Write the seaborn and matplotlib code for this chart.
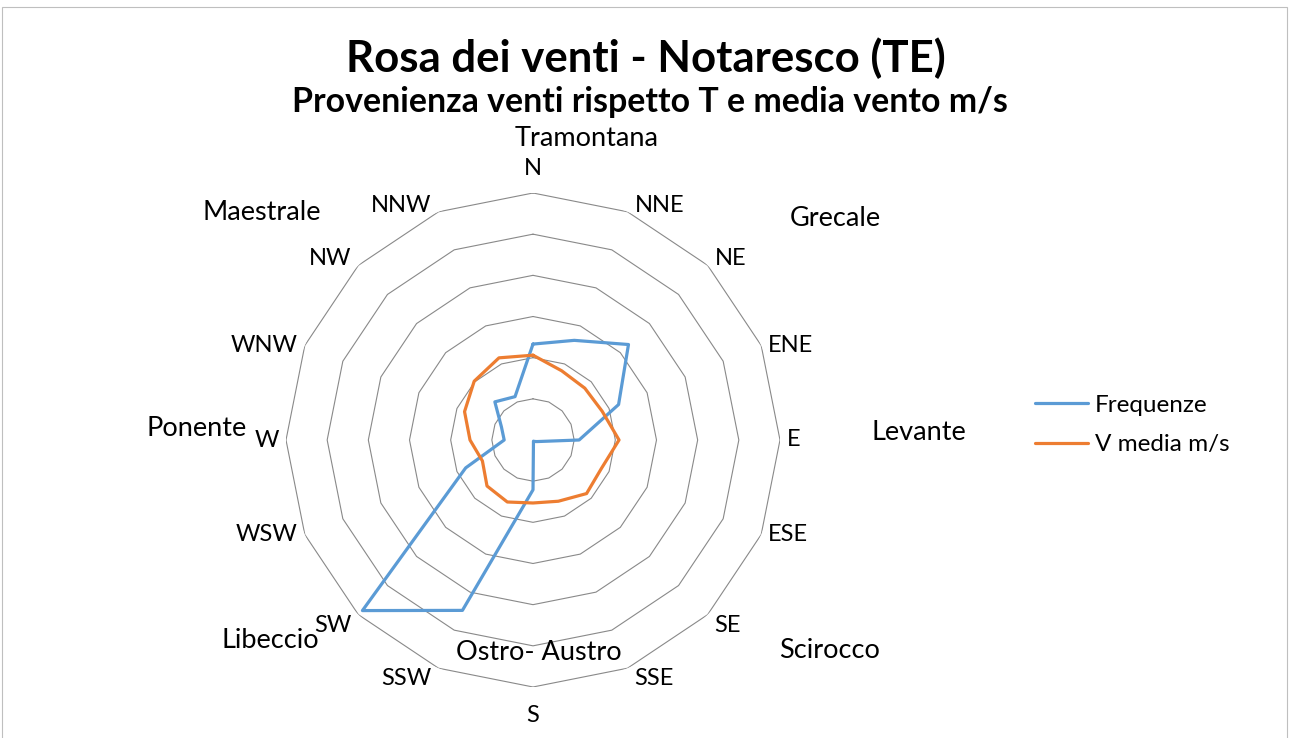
import numpy as np
import pandas as pd
import matplotlib.pyplot as plt
import seaborn as sns
from matplotlib.patches import Rectangle
from matplotlib.lines import Line2D

# data (one ring = 1 unit)
directions = ['N', 'NNE', 'NE', 'ENE', 'E', 'ESE', 'SE', 'SSE',
              'S', 'SSW', 'SW', 'WSW', 'W', 'WNW', 'NW', 'NNW']
frequenze = [2.33, 2.62, 3.28, 2.25, 1.12, 0.10, 0.05, 0.03,
             1.21, 4.48, 5.86, 1.77, 0.70, 0.83, 1.31, 1.14]
v_media = [2.06, 1.82, 1.78, 1.82, 2.09, 1.80, 1.84, 1.61,
           1.53, 1.63, 1.58, 1.33, 1.53, 1.80, 2.02, 2.16]
series_names = ['Frequenze', 'V media m/s']
rings = [1, 2, 3, 4, 5, 6]

# wind names and where they sit on the page (pixels)
wind_names = ['Tramontana', 'Grecale', 'Levante', 'Scirocco',
              'Ostro- Austro', 'Libeccio', 'Ponente', 'Maestrale']
wind_pos = [(587, 139), (835, 219), (919, 433), (830, 650),
            (539, 653), (270, 641), (197, 429), (262, 212)]

sns.set_theme(style='white')
plt.rcParams['font.family'] = ['Lato', 'DejaVu Sans']
plt.rcParams['text.color'] = 'black'

W, H = 1292, 738
fig = plt.figure(figsize=(W / 100, H / 100), dpi=100)

# chart border
fig.patches.append(Rectangle((2 / W, -0.05), 1285 / W, 1.05 - 7 / H,
                             transform=fig.transFigure, fill=False,
                             edgecolor='#BFBFBF', lw=0.8))

cx, cy, R = 533, 440, 247
ax = fig.add_axes([(cx - R) / W, (H - cy - R) / H, 2 * R / W, 2 * R / H],
                  projection='polar')
ax.set_theta_zero_location('N')
ax.set_theta_direction(-1)

theta = np.arange(len(directions)) * 2 * np.pi / len(directions)
theta_closed = np.append(theta, 2 * np.pi)

# polygon gridlines
for k in rings:
    ax.plot(theta_closed, [k] * len(theta_closed), color='#898989', lw=0.8, zorder=1)

df = pd.DataFrame({
    'theta': np.concatenate([theta_closed, theta_closed]),
    'value': frequenze + frequenze[:1] + v_media + v_media[:1],
    'series': [series_names[0]] * len(theta_closed) + [series_names[1]] * len(theta_closed),
})
colors = {'Frequenze': '#5B9BD5', 'V media m/s': '#ED7D31'}
sns.lineplot(data=df, x='theta', y='value', hue='series', sort=False,
             estimator=None, palette=colors, lw=2.3, ax=ax, legend=False,
             zorder=3, solid_joinstyle='round')

ax.set_ylim(0, 6)
ax.grid(False)
ax.spines['polar'].set_visible(False)
ax.set_xticks([])
ax.set_yticks([])
ax.set_xlabel('')
ax.set_ylabel('')
ax.set_facecolor('none')

# direction labels next to the outer ring vertices
for t, lab in zip(theta, directions):
    s, c = np.sin(t), np.cos(t)
    if s > 0.1:
        ha, dx = 'left', 5
    elif s < -0.1:
        ha, dx = 'right', -5
    else:
        ha, dx = 'center', 0
    if c > 0.5:
        va, dy = 'baseline', (13 if abs(s) < 0.1 else 0)
    elif c < -0.5:
        va, dy = 'top', (-13 if abs(s) < 0.1 else 0)
    else:
        va, dy = 'center', 0
    ax.annotate(lab, xy=(t, 6), xytext=(dx, dy), textcoords='offset points',
                ha=ha, va=va, fontsize=17, color='black')

for name, (px, py) in zip(wind_names, wind_pos):
    fig.text(px / W, 1 - py / H, name, ha='center', va='center',
             fontsize=19.5, color='black')

fig.text(0.5, 1 - 72 / H, 'Rosa dei venti - Notaresco (TE)', ha='center',
         va='baseline', fontsize=31.5, fontweight='bold')
fig.text(650 / W, 1 - 112 / H, 'Provenienza venti rispetto T e media vento m/s',
         ha='center', va='baseline', fontsize=24.4, fontweight='bold')

handles = [Line2D([], [], color=colors[n], lw=2.3) for n in series_names]
fig.legend(handles, series_names, loc='center left',
           bbox_to_anchor=(1035 / W, 1 - 425 / H), frameon=False,
           fontsize=17.5, handlelength=2.2, handletextpad=0.25,
           labelspacing=0.75, borderpad=0, borderaxespad=0)

fig.savefig('out.png', dpi=100)
